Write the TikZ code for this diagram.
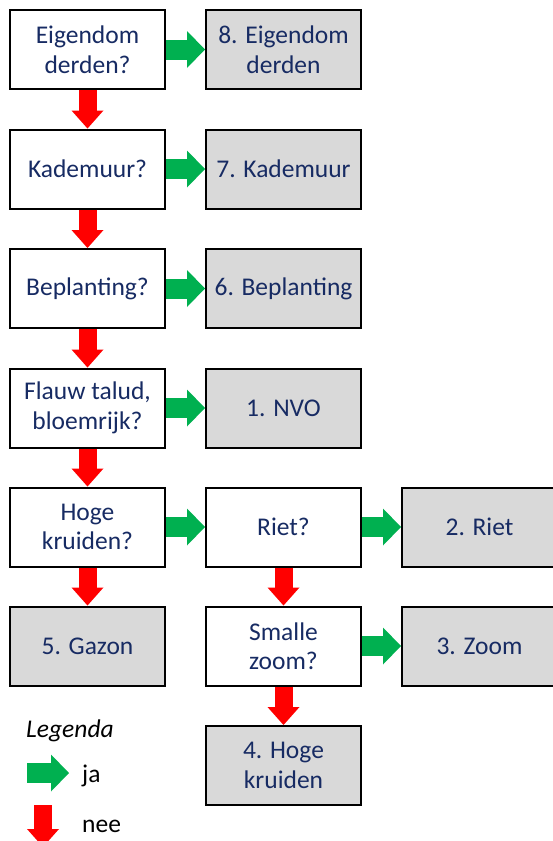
\documentclass[tikz,border=0pt]{standalone}
\usepackage{fontspec}
\setmainfont{Carlito}
\usetikzlibrary{arrows.meta}
\definecolor{tekst}{RGB}{23,43,99}
\definecolor{jagroen}{RGB}{0,176,80}
\definecolor{neerood}{RGB}{255,0,0}
\definecolor{uitgrijs}{RGB}{217,217,217}

\begin{document}
\begin{tikzpicture}[x=1pt, y=-1pt,
        vraag/.style={rectangle, draw, line width=2pt, fill=white, text=tekst, align=center,
            minimum width=155pt, minimum height=79pt, inner sep=0pt, font=\fontsize{25.5}{29.5}\selectfont},
        uitkomst/.style={vraag, fill=uitgrijs},
        ja/.style={draw=jagroen, line width=20pt, -{Triangle[length=18pt, width=37pt, line width=0pt]}},
        nee/.style={draw=neerood, line width=18pt, -{Triangle[length=18pt, width=32pt, line width=0pt]}},
        legtekst/.style={anchor=west, inner sep=0pt, font=\fontsize{25.5}{29.5}\selectfont}]

        \useasboundingbox (0,0) rectangle (553,841);
        \clip (0,0) rectangle (553,841);

        \node[vraag] (q1) at (87.5,49.5) {Eigendom\\derden?};
        \node[uitkomst] (r8) at (283.5,49.5) {8. Eigendom\\derden};
        \node[vraag] (q2) at (87.5,169) {Kademuur?};
        \node[uitkomst] (r7) at (283.5,169) {7. Kademuur};
        \node[vraag] (q3) at (87.5,288.5) {Beplanting?};
        \node[uitkomst] (r6) at (283.5,288.5) {6. Beplanting};
        \node[vraag] (q4) at (87.5,408) {Flauw talud,\\bloemrijk?};
        \node[uitkomst] (r1) at (283.5,408) {1. NVO};
        \node[vraag] (q5) at (87.5,527) {Hoge\\kruiden?};
        \node[vraag] (q6) at (283.5,527) {Riet?};
        \node[uitkomst] (r2) at (479.5,527) {2. Riet};
        \node[uitkomst] (r5) at (87.5,646) {5. Gazon};
        \node[vraag] (q7) at (283.5,646) {Smalle\\zoom?};
        \node[uitkomst] (r3) at (479.5,646) {3. Zoom};
        \node[uitkomst] (r4) at (283.5,765.5) {4. Hoge\\kruiden};

        \draw[ja] (q1) -- (r8);
        \draw[ja] (q2) -- (r7);
        \draw[ja] (q3) -- (r6);
        \draw[ja] (q4) -- (r1);
        \draw[ja] (q5) -- (q6);
        \draw[ja] (q6) -- (r2);
        \draw[ja] (q7) -- (r3);
        \draw[nee] (q1) -- (q2);
        \draw[nee] (q2) -- (q3);
        \draw[nee] (q3) -- (q4);
        \draw[nee] (q4) -- (q5);
        \draw[nee] (q5) -- (r5);
        \draw[nee] (q6) -- (q7);
        \draw[nee] (q7) -- (r4);

        % legenda
        \node[legtekst, font=\fontsize{25.5}{29.5}\selectfont\itshape] (legenda) at (26,731) {Legenda};
        \coordinate (jastart) at (27,773);
        \coordinate (jaeind) at (69,773);
        \draw[ja] (jastart) -- (jaeind);
        \node[legtekst] (jatekst) at (82,776) {ja};
        \coordinate (neestart) at (43,805);
        \coordinate (neeeind) at (43,847);
        \draw[nee] (neestart) -- (neeeind);
        \node[legtekst] (neetekst) at (82,826) {nee};

    \end{tikzpicture}
\end{document}
